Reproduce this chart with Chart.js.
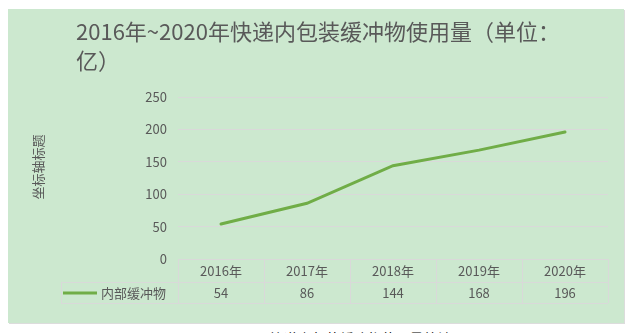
<!DOCTYPE html>
<html>
<head>
<meta charset="utf-8">
<script src="https://cdn.jsdelivr.net/npm/chart.js@4.4.1/dist/chart.umd.min.js"></script>
<style>
  html, body { margin: 0; padding: 0; background: #fff; overflow: hidden; }
  #panel {
    position: absolute; left: 8px; top: 9px; width: 616px; height: 314px;
    background: #cce8cf; box-shadow: 1px 1px 0 #dcdcdc;
  }
  #caption {
    position: absolute; left: 0; width: 696px; top: 331px; text-align: center;
    font: 14px "Noto Sans CJK SC", sans-serif; line-height: 1; color: #000;
  }
</style>
</head>
<body>
<div id="panel"><canvas id="chart" width="616" height="314"></canvas></div>
<div id="caption">图1 快递内包装缓冲物使用量统计</div>
<script>
const years = ['2016年', '2017年', '2018年', '2019年', '2020年'];
const cushioning = [54, 86, 144, 168, 196];
const seriesName = '内部缓冲物';
const titleLines = ['2016年~2020年快递内包装缓冲物使用量（单位：', '亿）'];
const axisTitle = '坐标轴标题';

const FONT = '"Noto Sans CJK SC", "Noto Sans", sans-serif';
const TEXT = '#595959';
const GRID = '#d9d9d9';
const GREEN = '#70ad47';

// title, vertical axis title and the data table under the plot
const decorations = {
    id: 'decorations',
    afterDraw(chart) {
        const ctx = chart.ctx;
        const area = chart.chartArea;
        const x = chart.scales.x;
        const colW = (area.right - area.left) / years.length;
        const top = area.bottom, mid = top + 23, bottom = mid + 21, legendLeft = 53;

        ctx.save();
        ctx.fillStyle = TEXT;
        ctx.textBaseline = 'middle';

        ctx.font = '22px ' + FONT;
        ctx.textAlign = 'left';
        ctx.fillText(titleLines[0], 68, 23);
        ctx.fillText(titleLines[1], 68, 52);

        ctx.save();
        ctx.translate(30, 158);
        ctx.rotate(-Math.PI / 2);
        ctx.font = '13px ' + FONT;
        ctx.textAlign = 'center';
        ctx.fillText(axisTitle, 0, 0);
        ctx.restore();

        // table borders
        ctx.strokeStyle = GRID;
        ctx.lineWidth = 1;
        ctx.beginPath();
        ctx.moveTo(area.left, top + 0.5); ctx.lineTo(area.right, top + 0.5);
        ctx.moveTo(legendLeft, mid + 0.5); ctx.lineTo(area.right, mid + 0.5);
        ctx.moveTo(legendLeft, bottom + 0.5); ctx.lineTo(area.right, bottom + 0.5);
        ctx.moveTo(legendLeft + 0.5, mid); ctx.lineTo(legendLeft + 0.5, bottom);
        for (let i = 0; i <= years.length; i++) {
            const px = Math.round(area.left + i * colW) + 0.5;
            ctx.moveTo(px, top); ctx.lineTo(px, bottom);
        }
        ctx.stroke();

        // header and value cells
        ctx.font = '13px ' + FONT;
        ctx.textAlign = 'center';
        years.forEach((label, i) => {
            const cx = x.getPixelForValue(i);
            ctx.fillText(label, cx, top + 12);
            ctx.fillText(String(cushioning[i]), cx, mid + 11);
        });

        // legend key
        ctx.strokeStyle = GREEN;
        ctx.lineWidth = 3;
        ctx.beginPath();
        ctx.moveTo(55, mid + 11); ctx.lineTo(89, mid + 11);
        ctx.stroke();
        ctx.textAlign = 'left';
        ctx.fillText(seriesName, 93, mid + 11);
        ctx.restore();
    }
};

new Chart(document.getElementById('chart'), {
    type: 'line',
    data: {
        labels: years,
        datasets: [{
            label: seriesName,
            data: cushioning,
            borderColor: GREEN,
            borderWidth: 3,
            borderCapStyle: 'round',
            pointRadius: 0,
            tension: 0
        }]
    },
    options: {
        responsive: false,
        animation: false,
        layout: { padding: { left: 0, right: 16, top: 88, bottom: 64 } },
        plugins: {
            legend: { display: false },
            title: { display: false },
            tooltip: { enabled: false }
        },
        scales: {
            x: { display: false, offset: true },
            y: {
                min: 0,
                max: 250,
                afterFit(scale) { scale.width = 170; },
                border: { display: false },
                grid: { color: GRID, drawTicks: false },
                ticks: { stepSize: 50, padding: 11, color: TEXT, font: { family: FONT, size: 13 } }
            }
        }
    },
    plugins: [decorations]
});
</script>
</body>
</html>
